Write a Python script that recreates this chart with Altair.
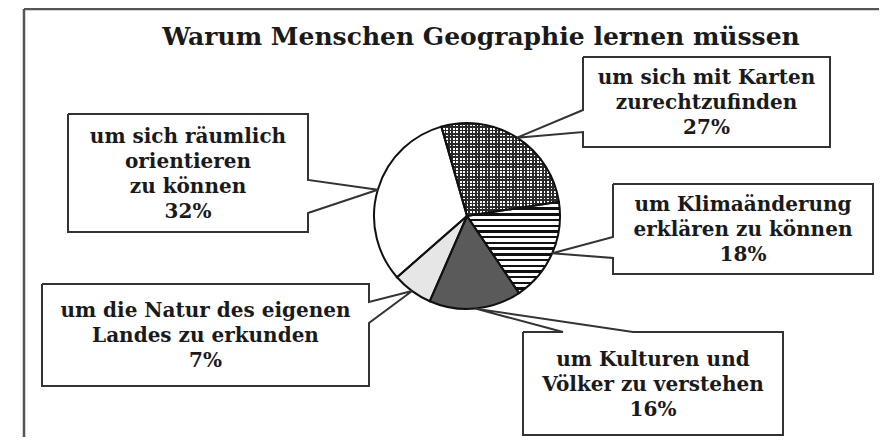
import math
import altair as alt
import pandas as pd

# ---------------- data ----------------
keys = ["Karten", "Klima", "Kulturen", "Natur", "Raum"]
values = [27, 18, 16, 7, 32]
label_lines = [
    ["um sich mit Karten", "zurechtzufinden"],
    ["um Klimaänderung", "erklären zu können"],
    ["um Kulturen und", "Völker zu verstehen"],
    ["um die Natur des eigenen", "Landes zu erkunden"],
    ["um sich räumlich", "orientieren", "zu können"],
]
title_text = "Warum Menschen Geographie lernen müssen"

# ---------------- layout (page pixels) ----------------
W, H = 871, 429          # chart size; page origin of chart is (8, 8)
OX, OY = 8, 8
CX, CY, R = 467, 216, 93  # pie centre / radius
START = math.radians(344)  # first slice starts 16 deg left of 12 o'clock
LH = 25                   # label line height
FONT = "DejaVu Serif"

# box: L, R, T, B, side of pointer, attach a1, a2
boxes = {
    "Karten":   (583, 830, 57, 147, "left", 110, 132),
    "Klima":    (613, 873, 184, 274, "left", 237, 258),
    "Kulturen": (523, 783, 332, 435, "top", 563, 633),
    "Natur":    (42, 369, 284, 386, "right", 302, 323),
    "Raum":     (68, 308, 114, 232, "right", 180, 213),
}

# ---------------- derived tables ----------------
ends = pd.Series(values).cumsum()
pie = pd.DataFrame({"key": keys, "value": values,
                    "start": ends - pd.Series(values), "end": ends})

line_rows, text_rows = [], []
for k, v, s, e, lines in zip(keys, values, pie["start"], pie["end"], label_lines):
    ang = START + 2 * math.pi * ((s + e) / 2) / 100
    tx, ty = CX + R * math.sin(ang), CY - R * math.cos(ang)
    L, Rr, T, B, side, a1, a2 = boxes[k]
    if side == "right":
        pts = [(L, T), (Rr, T), (Rr, a1), (tx, ty), (Rr, a2), (Rr, B), (L, B), (L, T)]
    elif side == "left":
        pts = [(L, T), (Rr, T), (Rr, B), (L, B), (L, a2), (tx, ty), (L, a1), (L, T)]
    else:
        pts = [(L, T), (a1, T), (tx, ty), (a2, T), (Rr, T), (Rr, B), (L, B), (L, T)]
    for i, (px, py) in enumerate(pts):
        line_rows.append({"key": k, "i": i, "x": px, "y": py})
    all_lines = lines + [f"{v}%"]
    text_rows.append({"key": k, "x": (L + Rr) / 2,
                      "y": (T + B) / 2 - (len(all_lines) - 1) * LH / 2 + 1,
                      "label": "\n".join(all_lines)})
lines_df = pd.DataFrame(line_rows)
text_df = pd.DataFrame(text_rows)

frame_df = pd.DataFrame({"x": [24, 24], "y": [9, 9], "x2": [24, 879], "y2": [445, 9]})
title_df = pd.DataFrame({"x": [481], "y": [45], "t": [title_text]})

xs = alt.Scale(domain=[OX, OX + W], nice=False, zero=False)
ys = alt.Scale(domain=[OY, OY + H], nice=False, zero=False, reverse=True)


def stripes(n, frac, dark, light, vertical=False):
    stops = []
    for k in range(n):
        a, b, c = k / n, (k + frac) / n, (k + 1) / n
        stops += [alt.GradientStop(offset=a, color=dark),
                  alt.GradientStop(offset=b, color=dark),
                  alt.GradientStop(offset=b, color=light),
                  alt.GradientStop(offset=min(c, 1.0), color=light)]
    if vertical:
        return alt.LinearGradient(gradient="linear", stops=stops, x1=0, y1=0, x2=1, y2=0)
    return alt.LinearGradient(gradient="linear", stops=stops, x1=0, y1=0, x2=0, y2=1)


theta = alt.Theta("start:Q", scale=alt.Scale(domain=[0, 100], range=[START, START + 2 * math.pi]),
                  stack=None)
theta2 = alt.Theta2("end:Q")
base = alt.Chart(pie)


def arc(key, **props):
    return base.transform_filter(alt.datum.key == key).mark_arc(radius=R, **props).encode(
        theta=theta, theta2=theta2, x=alt.value(CX - OX), y=alt.value(CY - OY))


arcs = [
    arc("Raum", fill="white", strokeWidth=0),
    arc("Karten", fill="white", strokeWidth=0),
    arc("Karten", fill=stripes(28, 0.5, "#2a2a2a", "rgba(255,255,255,0)"), strokeWidth=0),
    arc("Karten", fill=stripes(35, 0.5, "#2a2a2a", "rgba(255,255,255,0)", vertical=True), strokeWidth=0),
    arc("Klima", fill=stripes(16, 0.42, "#111111", "white"), strokeWidth=0),
    arc("Kulturen", fill="#5a5a5a", strokeWidth=0),
    arc("Natur", fill="#e6e6e6", strokeWidth=0),
]
outline = base.mark_arc(radius=R, fillOpacity=0, stroke="#111111", strokeWidth=2).encode(
    theta=theta, theta2=theta2, x=alt.value(CX - OX), y=alt.value(CY - OY))

frame = alt.Chart(frame_df).mark_rule(color="#555555", strokeWidth=2.5).encode(
    x=alt.X("x:Q", scale=xs, axis=None), y=alt.Y("y:Q", scale=ys, axis=None),
    x2="x2:Q", y2="y2:Q")

callouts = alt.Chart(lines_df).mark_line(color="#333333", strokeWidth=2, strokeJoin="miter").encode(
    x=alt.X("x:Q", scale=xs, axis=None), y=alt.Y("y:Q", scale=ys, axis=None),
    detail="key:N", order="i:Q")

texts = alt.Chart(text_df).mark_text(
    font=FONT, fontWeight="bold", fontSize=20, lineHeight=LH,
    lineBreak="\n", align="center", baseline="middle", color="#1a1a1a").encode(
    x=alt.X("x:Q", scale=xs, axis=None), y=alt.Y("y:Q", scale=ys, axis=None), text="label:N")

title = alt.Chart(title_df).mark_text(
    font=FONT, fontWeight="bold", fontSize=25, align="center",
    baseline="alphabetic", color="#1a1a1a").encode(
    x=alt.X("x:Q", scale=xs, axis=None), y=alt.Y("y:Q", scale=ys, axis=None), text="t:N")

chart = alt.layer(frame, *arcs, outline, callouts, texts, title).properties(
    width=W, height=H, padding=0, autosize="none", background="white"
).configure_view(stroke=None)

chart.save("out.html", embed_options={"renderer": "svg", "actions": False})
